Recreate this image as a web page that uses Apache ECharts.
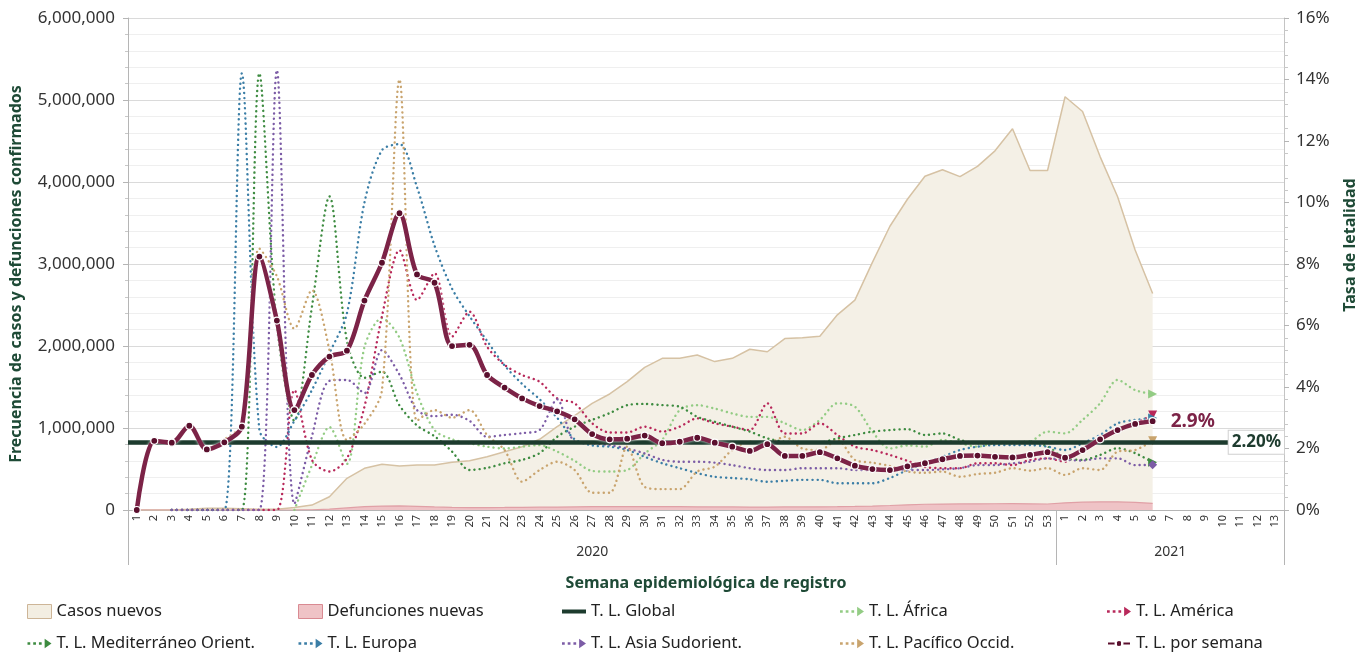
<!DOCTYPE html>
<html>
<head>
<meta charset="utf-8">
<script src="https://cdn.jsdelivr.net/npm/echarts@6/dist/echarts.min.js"></script>
<style>
  html, body { margin: 0; padding: 0; background: #fff; }
  #chart { width: 1369px; height: 654px; }
</style>
</head>
<body>
<div id="chart"></div>
<script>
// week labels: 53 weeks of 2020 followed by 13 weeks of 2021
const weeks2020 = ['1','2','3','4','5','6','7','8','9','10','11','12','13','14','15','16','17','18','19','20','21','22','23','24','25','26','27','28','29','30','31','32','33','34','35','36','37','38','39','40','41','42','43','44','45','46','47','48','49','50','51','52','53'];
const weeks2021 = ['1','2','3','4','5','6','7','8','9','10','11','12','13'];
const years = ['2020', '2021'];

// left axis: weekly counts
const casosNuevos = [0, 100, 500, 10000, 20000, 20000, 15000, 8000, 8000, 30000,
  60000, 162000, 386000, 508000, 557000, 537000, 549000, 549000, 581000, 601000,
  650000, 711000, 772000, 862000, 1016000, 1150000, 1301000, 1415000, 1565000, 1740000,
  1850000, 1850000, 1890000, 1810000, 1850000, 1960000, 1930000, 2090000, 2100000, 2120000,
  2380000, 2560000, 3020000, 3460000, 3790000, 4070000, 4150000, 4065000, 4190000, 4380000,
  4650000, 4140000, 4140000,
  5040000, 4860000, 4310000, 3820000, 3170000, 2640000];
const defuncionesNuevas = [0, 0, 0, 100, 200, 300, 300, 200, 200, 500,
  3000, 10000, 25000, 40000, 48000, 50000, 45000, 38000, 33000, 30000,
  30000, 31000, 33000, 35000, 36000, 38000, 40000, 40000, 40000, 41000,
  41000, 40000, 39000, 38000, 37000, 36000, 36000, 37000, 38000, 39000,
  40000, 43000, 48000, 55000, 63000, 70000, 72000, 74000, 75000, 76000,
  78000, 75000, 73000,
  88000, 96000, 100000, 100000, 92000, 82000];

// right axis: case fatality rate (%)
const tlGlobal = 2.2;
const tlPorSemana = [0, 2.25, 2.19, 2.74, 1.97, 2.20, 2.71, 8.24, 6.16, 3.25,
  4.39, 4.99, 5.18, 6.81, 8.04, 9.65, 7.66, 7.39, 5.33, 5.37,
  4.39, 3.98, 3.63, 3.38, 3.21, 2.95, 2.47, 2.30, 2.32, 2.42,
  2.17, 2.22, 2.35, 2.19, 2.06, 1.92, 2.14, 1.76, 1.76, 1.88,
  1.68, 1.44, 1.33, 1.30, 1.42, 1.52, 1.65, 1.76, 1.77, 1.73,
  1.71, 1.79, 1.88,
  1.70, 1.95, 2.30, 2.60, 2.80, 2.89];
const tlAfrica = [null, null, null, null, null, null, null, null, null, 0,
  1.45, 2.7, 1.5, 5.3, 6.24, 5.6, 3.8, 2.6, 2.3, 2.17,
  2.06, 2.0, 2.06, 2.11, 1.9, 1.6, 1.27, 1.25, 1.3, 1.84,
  2.28, 3.25, 3.41, 3.3, 3.14, 3.03, 3.03, 2.82, 2.6, 2.93,
  3.47, 3.36, 2.55, 2.0, 2.1, 2.06, 2.28, 2.17, 2.06, 2.17,
  2.17, 2.22, 2.55,
  2.49, 2.93, 3.47, 4.23, 3.9, 3.77];
const tlAmerica = [null, null, 0, 0, 0, 0, 0, 0, 0, 3.9,
  1.63, 1.25, 1.68, 3.36, 6.3, 8.45, 6.83, 7.7, 5.64, 6.45,
  5.31, 4.72, 4.39, 4.17, 3.63, 3.47, 2.82, 2.52, 2.52, 2.71,
  2.55, 2.71, 2.98, 2.82, 2.71, 2.6, 3.47, 2.49, 2.49, 2.82,
  2.44, 2.06, 1.95, 1.79, 1.6, 1.4, 1.36, 1.36, 1.52, 1.52,
  1.46, 1.63, 1.68,
  1.57, 2.01, 2.28, 2.6, 2.82, 3.09];
const tlMediterraneo = [null, null, 0, 0, 0, 0, 0, 14.2, 6.0, 2.9,
  6.6, 10.2, 5.5, 4.3, 4.5, 3.4, 2.75, 2.4, 1.9, 1.3,
  1.37, 1.52, 1.63, 1.85, 2.38, 2.71, 2.93, 3.15, 3.41, 3.45,
  3.41, 3.36, 3.03, 2.87, 2.71, 2.55, 2.33, 2.22, 2.2, 2.2,
  2.33, 2.44, 2.55, 2.6, 2.63, 2.44, 2.49, 2.28, 2.17, 2.17,
  2.2, 2.22, 2.06,
  1.69, 1.63, 1.79, 2.01, 1.85, 1.55];
const tlEuropa = [null, null, 0, 0, 0, 0, 14.2, 2.6, 2.05, 2.9,
  3.9, 5.1, 6.4, 10.0, 11.7, 11.9, 10.5, 8.6, 7.2, 6.3,
  5.5, 4.7, 4.1, 3.6, 3.0, 2.3, 2.1, 2.06, 1.95, 1.73,
  1.52, 1.36, 1.2, 1.08, 1.04, 1.0, 0.92, 0.95, 0.98, 0.98,
  0.87, 0.87, 0.87, 1.04, 1.3, 1.52, 1.73, 1.95, 2.06, 2.11,
  2.11, 2.11, 2.06,
  1.95, 2.17, 2.44, 2.82, 2.93, 2.99];
const tlAsia = [null, null, 0, 0, 0, 0, 0, 0, 14.3, 0.2,
  2.4, 4.2, 4.23, 3.8, 5.2, 4.4, 3.25, 3.05, 3.1, 2.9,
  2.38, 2.44, 2.5, 2.6, 3.6, 2.22, 2.17, 2.11, 2.0, 1.84,
  1.63, 1.57, 1.57, 1.54, 1.46, 1.36, 1.3, 1.3, 1.36, 1.36,
  1.36, 1.3, 1.3, 1.3, 1.3, 1.3, 1.32, 1.36, 1.46, 1.46,
  1.52, 1.57, 1.68,
  1.63, 1.61, 1.68, 1.68, 1.46, 1.47];
const tlPacifico = [0, 2.2, 2.2, 2.7, 2.0, 2.3, 2.8, 8.5, 7.6, 5.9,
  7.15, 5.2, 2.28, 2.8, 3.9, 14.0, 2.9, 3.25, 3.0, 3.25,
  2.44, 1.95, 0.92, 1.3, 1.57, 1.3, 0.56, 0.56, 2.06, 0.75,
  0.68, 0.68, 1.25, 1.41, 1.95, 2.22, 2.17, 2.38, 2.0, 1.95,
  2.28, 1.63, 1.54, 1.43, 1.25, 1.21, 1.25, 1.08, 1.17, 1.21,
  1.36, 1.28, 1.36,
  1.14, 1.36, 1.30, 1.9, 1.95, 2.25];

const weekLabels = weeks2020.concat(weeks2021);
const yearStart = [0, weeks2020.length, weekLabels.length];
const yearCenter = [Math.floor(weeks2020.length / 2), weeks2020.length + Math.floor(weeks2021.length / 2)];

const green = '#1e4a36';
const font = 'Noto Sans';
const dotIcon = 'path://M0,5h2.4v2.4h-2.4z M5,5h2.4v2.4h-2.4z M10,5h2.4v2.4h-2.4z M15,2l6,4.2l-6,4.2z';

function withEnd(values, symbol, rotate) {
  return values.map((v, i) => i === values.length - 1
    ? { value: v, symbol: symbol, symbolSize: 9, symbolRotate: rotate }
    : v);
}

function region(name, values, color, symbol, rotate) {
  return {
    name: name,
    type: 'line',
    yAxisIndex: 1,
    data: withEnd(values, symbol, rotate),
    smooth: 0.3,
    symbol: 'none',
    connectNulls: false,
    itemStyle: { color: color },
    lineStyle: { color: color, width: 2.4, type: [0.1, 5], cap: 'round' },
    z: 3,
  };
}

const chart = echarts.init(document.getElementById('chart'));

const legendCols = [
  { left: 27, items: [
    { name: 'Casos nuevos', icon: 'rect', itemStyle: { color: '#f3eee2', borderColor: '#cdb597', borderWidth: 1 } },
    { name: 'T. L. Mediterráneo Orient.', icon: dotIcon } ] },
  { left: 298, items: [
    { name: 'Defunciones nuevas', icon: 'rect', itemStyle: { color: '#efc3c6', borderColor: '#d98a92', borderWidth: 1 } },
    { name: 'T. L. Europa', icon: dotIcon } ] },
  { left: 562, items: [
    { name: 'T. L. Global', icon: 'path://M0,4h24v4h-24z' },
    { name: 'T. L. Asia Sudorient.', icon: dotIcon } ] },
  { left: 840, items: [
    { name: 'T. L. África', icon: dotIcon },
    { name: 'T. L. Pacífico Occid.', icon: dotIcon } ] },
  { left: 1106, items: [
    { name: 'T. L. América', icon: dotIcon },
    { name: 'T. L. por semana', icon: 'path://M0,4h9v4h-9z M15,4h9v4h-9z M12,2.5a3.5,3.5 0 1,0 0.01,0z' } ] },
];

chart.setOption({
  animation: false,
  textStyle: { fontFamily: font },
  grid: { left: 128, right: 85, top: 18, bottom: 144, outerBoundsMode: 'none' },
  legend: legendCols.map(c => ({
    orient: 'vertical',
    left: c.left,
    top: 603,
    height: 60,
    padding: 0,
    itemGap: 15,
    itemWidth: 24,
    itemHeight: 14,
    selectedMode: false,
    textStyle: { fontSize: 16.5, color: '#222', fontFamily: font },
    data: c.items,
  })),
  xAxis: [
    {
      type: 'category',
      data: weekLabels,
      boundaryGap: true,
      axisLine: { lineStyle: { color: '#b5b5b5' } },
      axisTick: { interval: 0, length: 20, lineStyle: { color: '#cfcfcf' } },
      axisLabel: { interval: 0, rotate: 90, fontSize: 11, color: '#333', margin: 5 },
      splitLine: { show: false },
    },
    {
      type: 'category',
      data: weekLabels,
      position: 'bottom',
      boundaryGap: true,
      axisLine: { show: true, lineStyle: { color: 'rgba(0,0,0,0)' } },
      axisTick: {
        show: true,
        interval: (i) => yearStart.includes(i),
        length: 55,
        lineStyle: { color: '#b5b5b5' },
      },
      axisLabel: {
        interval: (i) => yearCenter.includes(i),
        formatter: (v, i) => years[yearCenter.indexOf(i)],
        fontSize: 14,
        color: '#333',
        margin: 35,
      },
      name: 'Semana epidemiológica de registro',
      nameLocation: 'middle',
      nameGap: 65,
      nameTextStyle: { fontSize: 16, fontWeight: 'bold', color: green },
    },
  ],
  yAxis: [
    {
      type: 'value',
      min: 0,
      max: 6000000,
      interval: 1000000,
      name: 'Frecuencia de casos y defunciones confirmados',
      nameLocation: 'middle',
      nameGap: 104,
      nameTextStyle: { fontSize: 16, fontWeight: 'bold', color: green, padding: [0, 20, 0, 0] },
      axisLine: { show: true, lineStyle: { color: '#b5b5b5' } },
      axisTick: { show: true, length: 5, lineStyle: { color: '#b5b5b5' } },
      minorTick: { show: true, splitNumber: 5, length: 3, lineStyle: { color: '#c8c8c8' } },
      axisLabel: {
        fontSize: 17, color: '#333', margin: 13,
        formatter: (v) => v.toLocaleString('en-US'),
      },
      splitLine: { lineStyle: { color: '#dadada' } },
      minorSplitLine: { show: true, lineStyle: { color: '#efefef' } },
    },
    {
      type: 'value',
      min: 0,
      max: 16,
      interval: 2,
      name: 'Tasa de letalidad',
      nameLocation: 'middle',
      nameRotate: 90,
      nameGap: 58,
      nameTextStyle: { fontSize: 16, fontWeight: 'bold', color: green, padding: [0, 0, 0, 38] },
      axisLine: { show: true, lineStyle: { color: '#c4c4c4' } },
      axisTick: { show: true, length: 5, lineStyle: { color: '#b5b5b5' } },
      minorTick: { show: true, splitNumber: 5, length: 4, lineStyle: { color: '#c8c8c8' } },
      axisLabel: { fontSize: 17, color: '#333', margin: 12, formatter: '{value}%' },
      splitLine: { show: false },
    },
  ],
  series: [
    {
      name: 'Casos nuevos',
      type: 'line',
      data: casosNuevos,
      symbol: 'none',
      itemStyle: { color: '#cdb597' },
      lineStyle: { color: '#d6c2a4', width: 1.5 },
      areaStyle: { color: '#f4f0e6', opacity: 1 },
      z: 1,
    },
    {
      name: 'Defunciones nuevas',
      type: 'line',
      data: defuncionesNuevas,
      symbol: 'none',
      itemStyle: { color: '#d98a92' },
      lineStyle: { color: '#e0a0a6', width: 1.2 },
      areaStyle: { color: '#efc3c6', opacity: 1 },
      z: 2,
    },
    {
      name: 'T. L. Global',
      type: 'line',
      yAxisIndex: 1,
      data: [],
      itemStyle: { color: '#1d3b2e' },
      lineStyle: { color: '#1d3b2e' },
      z: 6,
      markLine: {
        silent: true,
        symbol: ['none', 'none'],
        lineStyle: { color: '#1d3b2e', width: 4.5, type: 'solid' },
        label: {
          position: 'insideEnd',
          formatter: () => tlGlobal.toFixed(2) + '%',
          fontSize: 17,
          fontWeight: 'bold',
          color: '#1d3b2e',
          backgroundColor: '#fff',
          borderColor: '#d0d0d0',
          borderWidth: 1,
          padding: [3, 3],
          distance: 0,
        },
        data: [{ yAxis: tlGlobal }],
      },
    },
    region('T. L. África', tlAfrica, '#93cc84', 'triangle', -90),
    region('T. L. América', tlAmerica, '#b8285a', 'triangle', 180),
    region('T. L. Mediterráneo Orient.', tlMediterraneo, '#3d8b40', 'triangle', -90),
    region('T. L. Europa', tlEuropa, '#3b7ea6', 'triangle', -90),
    region('T. L. Asia Sudorient.', tlAsia, '#7c5ca6', 'diamond', 0),
    region('T. L. Pacífico Occid.', tlPacifico, '#c9a46e', 'triangle', 180),
    {
      name: 'T. L. por semana',
      type: 'line',
      yAxisIndex: 1,
      data: tlPorSemana,
      smooth: 0.3,
      symbol: 'circle',
      symbolSize: 7,
      itemStyle: { color: '#5a0f2d', borderColor: '#fff', borderWidth: 1.2 },
      lineStyle: { color: '#7c2347', width: 4.5, shadowColor: 'rgba(255,255,255,0.9)', shadowBlur: 3 },
      endLabel: {
        show: true,
        formatter: (p) => p.value.toFixed(1) + '%',
        fontSize: 19,
        fontWeight: 'bold',
        color: '#7c2347',
        distance: 18,
      },
      z: 10,
    },
  ],
});
</script>
</body>
</html>
